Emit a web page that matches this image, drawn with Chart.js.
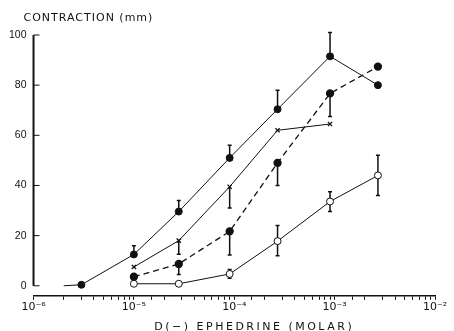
<!DOCTYPE html>
<html>
<head>
<meta charset="utf-8">
<script src="https://cdn.jsdelivr.net/npm/chart.js@4"></script>
<style>
  html, body { margin: 0; padding: 0; background: #fff; }
  #wrap { width: 454px; height: 331px; }
</style>
</head>
<body>
<div id="wrap"><canvas id="chart"></canvas></div>
<script>
// values (x = molar concentration, y = contraction in mm)
const xTop = [2e-6, 3e-6, 1e-5, 2.8e-5, 9e-5, 2.7e-4, 9e-4, 2.7e-3];
const yTop = [0, 0.4, 12.5, 29.6, 51, 70.4, 91.5, 80];
const hiTop = [null, null, 16, 34, 56, 78, 101, null];

const xCross = [1e-5, 2.8e-5, 9e-5, 2.7e-4, 9e-4];
const yCross = [7.5, 18, 39.5, 62, 64.5];
const loCross = [null, 12.6, 31, null, null];

const xDash = [1e-5, 2.8e-5, 9e-5, 2.7e-4, 9e-4, 2.7e-3];
const yDash = [3.6, 8.7, 21.7, 49, 76.7, 87.4];
const loDash = [null, 4.5, 12.3, 40, 67.5, null];

const xOpen = [1e-5, 2.8e-5, 9e-5, 2.7e-4, 9e-4, 2.7e-3];
const yOpen = [0.8, 0.8, 4.7, 17.8, 33.6, 44];
const hiOpen = [null, null, 6.5, 24, 37.5, 52];
const loOpen = [null, null, 3, 12, 29.6, 36];

const yTicks = [0, 20, 40, 60, 80, 100];
const xMajor = [1e-6, 1e-5, 1e-4, 1e-3, 1e-2];
const xLabels = ["10⁻⁶", "10⁻⁵", "10⁻⁴", "10⁻³", "10⁻²"];

const yTitle = "CONTRACTION (mm)";
const xTitle = "D(−) EPHEDRINE (MOLAR)";

const ink = "#111";
const pts = (xs, ys) => xs.map((x, i) => ({ x, y: ys[i] }));

// vertical error bars, one-sided or two-sided
const errorBars = {
  id: "errorBars",
  beforeDatasetsDraw(chart) {
    const ctx = chart.ctx;
    const yScale = chart.scales.y;
    chart.data.datasets.forEach((ds, i) => {
      const meta = chart.getDatasetMeta(i);
      ["hi", "lo"].forEach((key) => {
        const ends = ds[key];
        if (!ends) return;
        meta.data.forEach((pt, j) => {
          if (ends[j] == null) return;
          const yEnd = yScale.getPixelForValue(ends[j]);
          ctx.save();
          ctx.strokeStyle = ink;
          ctx.lineWidth = 1.5;
          ctx.beginPath();
          ctx.moveTo(pt.x, pt.y);
          ctx.lineTo(pt.x, yEnd);
          ctx.moveTo(pt.x - 2, yEnd);
          ctx.lineTo(pt.x + 2, yEnd);
          ctx.stroke();
          ctx.restore();
        });
      });
    });
  },
};

// y axis line (0..100 only), inward ticks and the two captions
const frame = {
  id: "frame",
  afterDraw(chart) {
    const ctx = chart.ctx;
    const area = chart.chartArea;
    const yScale = chart.scales.y;
    const top = yScale.getPixelForValue(100);
    const zero = yScale.getPixelForValue(0);
    ctx.save();
    ctx.strokeStyle = ink;
    ctx.lineWidth = 2;
    ctx.beginPath();
    ctx.moveTo(area.left, top);
    ctx.lineTo(area.left, zero);
    ctx.stroke();
    ctx.lineWidth = 1;
    yTicks.forEach((v) => {
      const py = yScale.getPixelForValue(v);
      ctx.beginPath();
      ctx.moveTo(area.left, py);
      ctx.lineTo(area.left + 6, py);
      ctx.stroke();
    });
    ctx.fillStyle = ink;
    ctx.font = "11px 'DejaVu Sans'";
    ctx.letterSpacing = "1px";
    ctx.textBaseline = "alphabetic";
    ctx.textAlign = "left";
    ctx.fillText(yTitle, area.left - 10, 21);
    ctx.letterSpacing = "2.5px";
    ctx.textAlign = "center";
    ctx.fillText(xTitle, (area.left + area.right) / 2 + 20, 330);
    ctx.restore();
  },
};

new Chart(document.getElementById("chart"), {
  type: "scatter",
  data: {
    datasets: [
      {
        data: pts(xTop, yTop),
        hi: hiTop,
        showLine: true,
        borderColor: ink,
        borderWidth: 1,
        backgroundColor: ink,
        pointBackgroundColor: ink,
        pointRadius: xTop.map((_, i) => (i === 0 ? 0 : 3.5)),
      },
      {
        data: pts(xCross, yCross),
        lo: loCross,
        showLine: true,
        borderColor: ink,
        borderWidth: 1,
        pointStyle: "crossRot",
        pointRadius: 3,
        pointBorderWidth: 1.3,
      },
      {
        data: pts(xDash, yDash),
        lo: loDash,
        showLine: true,
        borderColor: ink,
        borderWidth: 1.3,
        borderDash: [6, 4],
        backgroundColor: ink,
        pointBackgroundColor: ink,
        pointRadius: 3.5,
      },
      {
        data: pts(xOpen, yOpen),
        hi: hiOpen,
        lo: loOpen,
        showLine: true,
        borderColor: ink,
        borderWidth: 1,
        pointBackgroundColor: "#fff",
        pointBorderColor: ink,
        pointBorderWidth: 1,
        pointRadius: 3.5,
      },
    ],
  },
  options: {
    responsive: true,
    maintainAspectRatio: false,
    animation: false,
    layout: { padding: { left: 2, right: 19, top: 35, bottom: 16 } },
    plugins: {
      legend: { display: false },
      tooltip: { enabled: false },
    },
    scales: {
      x: {
        type: "logarithmic",
        min: 1e-6,
        max: 1e-2,
        border: { display: true, color: ink, width: 1.5 },
        grid: {
          display: true,
          drawOnChartArea: false,
          drawTicks: true,
          tickLength: 4,
          color: ink,
        },
        ticks: {
          autoSkip: false,
          maxRotation: 0,
          padding: 1,
          color: ink,
          font: { family: "DejaVu Sans", size: 11 },
          callback: (v) => {
            const k = xMajor.findIndex((m) => Math.abs(Math.log10(v) - Math.log10(m)) < 1e-6);
            return k >= 0 ? xLabels[k] : "";
          },
        },
      },
      y: {
        min: -4,
        max: 100,
        border: { display: false },
        grid: { display: false, drawTicks: false },
        afterBuildTicks: (scale) => {
          scale.ticks = yTicks.map((v) => ({ value: v }));
        },
        ticks: {
          padding: 7,
          color: ink,
          font: { family: "Liberation Sans", size: 10.5 },
        },
      },
    },
  },
  plugins: [errorBars, frame],
});
</script>
</body>
</html>
